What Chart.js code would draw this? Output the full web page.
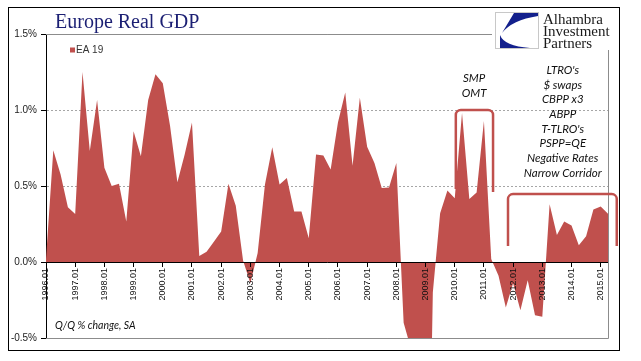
<!DOCTYPE html>
<html>
<head>
<meta charset="utf-8">
<script src="https://cdn.jsdelivr.net/npm/chart.js@4.4.0/dist/chart.umd.min.js"></script>
<style>
  html, body { margin: 0; padding: 0; background: #fff; }
</style>
</head>
<body>
<canvas id="gdpChart" width="641" height="361"></canvas>
<script>
// quarterly categories 1996.01 .. 2015.02
const years = [1996, 1997, 1998, 1999, 2000, 2001, 2002, 2003, 2004, 2005,
               2006, 2007, 2008, 2009, 2010, 2011, 2012, 2013, 2014, 2015];
const quarters = ["01", "02", "03", "04"];
const categories = [];
years.forEach(y => quarters.forEach(q => categories.push(y + "." + q)));
categories.length = 78;

// EA 19, Q/Q % change (values below -0.5 are clipped there)
const ea19 = [
  0.02, 0.735, 0.575, 0.36,
  0.315, 1.25, 0.73, 1.066,
  0.62, 0.50, 0.515, 0.266,
  0.86, 0.696, 1.066, 1.236,
  1.176, 0.894, 0.524, 0.707,
  0.917, 0.04, 0.068, 0.134,
  0.20, 0.515, 0.37, 0.01,
  -0.14, 0.06, 0.51, 0.755,
  0.51, 0.553, 0.333, 0.333,
  0.156, 0.707, 0.70, 0.608,
  0.917, 1.115, 0.634, 1.08,
  0.758, 0.652, 0.487, 0.49,
  0.652, -0.40, -0.57, -1.7,
  -2.9, -0.2, 0.32, 0.47,
  0.42, 0.98, 0.414, 0.458,
  0.927, 0.02, -0.09, -0.30,
  -0.14, -0.317, -0.12, -0.35,
  -0.36, 0.38, 0.178, 0.266,
  0.24, 0.11, 0.17, 0.346,
  0.365, 0.317
];

const yTicks = [-0.5, 0.0, 0.5, 1.0, 1.5];

const smpNotes = ["SMP", "OMT"];
const ltroNotes = ["LTRO's", "$ swaps", "CBPP x3", "ABPP", "T-TLRO's",
                   "PSPP=QE", "Negative Rates", "Narrow Corridor"];

const RED = "#C0504D";
const NAVY = "#1b1f73";

// brackets in data space: category index range, top value, end values
const smpBracket = { from: 56.15, to: 61.25, top: 1.0, leftEnd: 0.48, rightEnd: 0.46 };
const ltroBracket = { from: 63.3, to: 78.2, top: 0.447, leftEnd: 0.105, rightEnd: 0.105 };

function drawBracket(ctx, x, y, b) {
  const x1 = x.getPixelForValue(b.from), x2 = x.getPixelForValue(b.to);
  const yt = y.getPixelForValue(b.top);
  ctx.beginPath();
  ctx.moveTo(x1, y.getPixelForValue(b.leftEnd));
  ctx.arcTo(x1, yt, x2, yt, 5);
  ctx.arcTo(x2, yt, x2, y.getPixelForValue(b.rightEnd), 5);
  ctx.lineTo(x2, y.getPixelForValue(b.rightEnd));
  ctx.stroke();
}

const decorations = {
  id: "decorations",
  beforeDraw(chart) {
    const ctx = chart.ctx;
    ctx.save();
    ctx.fillStyle = "#fff";
    ctx.fillRect(0, 0, chart.width, chart.height);
    ctx.restore();
  },
  afterDraw(chart) {
    const ctx = chart.ctx;
    const a = chart.chartArea;
    const x = chart.scales.x, y = chart.scales.y;
    ctx.save();

    // plot frame (top, right, bottom)
    ctx.strokeStyle = "#8c8c8c";
    ctx.lineWidth = 1;
    ctx.beginPath();
    ctx.moveTo(a.left, a.top + 0.5);
    ctx.lineTo(a.right + 0.5, a.top + 0.5);
    ctx.lineTo(a.right + 0.5, a.bottom + 0.5);
    ctx.lineTo(a.left, a.bottom + 0.5);
    ctx.stroke();

    // brackets
    ctx.strokeStyle = RED;
    ctx.lineWidth = 2.5;
    drawBracket(ctx, x, y, smpBracket);
    drawBracket(ctx, x, y, ltroBracket);

    // notes
    ctx.fillStyle = "#111";
    ctx.textAlign = "center";
    ctx.textBaseline = "middle";
    ctx.font = "italic 11.5px Lato";
    smpNotes.forEach((t, i) => ctx.fillText(t, x.getPixelForValue(58.65), y.getPixelForValue(1.21) + i * 15));
    ltroNotes.forEach((t, i) => ctx.fillText(t, x.getPixelForValue(70.8), y.getPixelForValue(1.262) + i * 14.7));

    ctx.textAlign = "left";
    ctx.font = "italic 10.5px Lato";
    ctx.fillText("Q/Q % change, SA", a.left + 9, y.getPixelForValue(-0.42));

    // legend
    ctx.fillStyle = RED;
    ctx.fillRect(a.left + 24, a.top + 13.5, 5, 5);
    ctx.fillStyle = "#333";
    ctx.font = "10px 'Liberation Sans'";
    ctx.fillText("EA 19", a.left + 30, a.top + 16.5);

    // title
    ctx.fillStyle = NAVY;
    ctx.textBaseline = "alphabetic";
    ctx.font = "20px 'Liberation Serif'";
    ctx.fillText("Europe Real GDP", 55, 28);

    // logo panel
    ctx.fillStyle = "#fff";
    ctx.fillRect(492, 9, 121, 41);
    ctx.strokeStyle = "#c8c8c8";
    ctx.lineWidth = 1;
    ctx.strokeRect(495.5, 12.5, 43, 36);
    ctx.fillStyle = "#13208c";
    ctx.beginPath();
    ctx.moveTo(514, 13);
    ctx.lineTo(538, 13);
    ctx.lineTo(538, 16);
    ctx.quadraticCurveTo(512, 20, 502, 33);
    ctx.closePath();
    ctx.fill();
    ctx.beginPath();
    ctx.moveTo(500, 35);
    ctx.quadraticCurveTo(504, 46, 530, 48);
    ctx.lineTo(500, 48);
    ctx.closePath();
    ctx.fill();
    ctx.fillStyle = "#1a1a1a";
    ctx.font = "15px 'Liberation Serif'";
    ctx.fillText("Alhambra", 543, 24);
    ctx.fillText("Investment", 543, 36);
    ctx.fillText("Partners", 543, 47.5);

    // outer frame
    ctx.strokeStyle = "#000";
    ctx.strokeRect(8.5, 7.5, 611, 343);
    ctx.restore();
  }
};

new Chart(document.getElementById("gdpChart"), {
  type: "line",
  data: {
    labels: categories,
    datasets: [{
      label: "EA 19",
      data: ea19,
      backgroundColor: RED,
      borderColor: RED,
      borderWidth: 0,
      pointRadius: 0,
      tension: 0,
      fill: "origin"
    }]
  },
  options: {
    responsive: false,
    animation: false,
    layout: { padding: { left: 9, right: 33, top: 34, bottom: 23 } },
    plugins: { legend: { display: false }, tooltip: { enabled: false } },
    scales: {
      x: {
        position: { y: 0 },
        offset: false,
        grid: {
          z: 1,
          drawOnChartArea: false,
          tickLength: 4,
          tickColor: c => (c.index % 4 === 0 ? "#000" : "rgba(0,0,0,0)")
        },
        border: { z: 1, color: "#000", width: 1 },
        ticks: {
          z: 1,
          autoSkip: false,
          maxRotation: 90,
          minRotation: 90,
          padding: 2,
          color: "#111",
          font: { family: "'Liberation Sans'", size: 9 },
          callback: function (v, i) { return i % 4 === 0 ? this.getLabelForValue(v) : ""; }
        }
      },
      y: {
        min: -0.5,
        max: 1.5,
        afterFit: s => { s.width = 37; },
        afterBuildTicks: s => { s.ticks = yTicks.map(v => ({ value: v })); },
        grid: { color: "#a6a6a6", tickColor: "#000", tickLength: 5 },
        border: { color: "#000", width: 1, dash: [2, 2] },
        ticks: {
          padding: 4,
          color: "#222",
          font: { family: "'Liberation Sans'", size: 10 },
          callback: v => v.toFixed(1) + "%"
        }
      }
    }
  },
  plugins: [decorations]
});
</script>
</body>
</html>
